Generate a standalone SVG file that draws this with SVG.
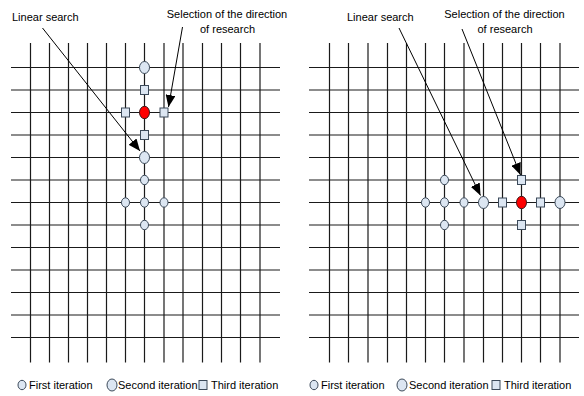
<svg xmlns="http://www.w3.org/2000/svg" width="584" height="396" viewBox="0 0 584 396">
<style>
.g line{stroke:#1a1a1a;stroke-width:1.2}
.t{font-family:"Liberation Sans",Arial,sans-serif;font-size:11px;fill:#000}
.s{fill:#dce6f2;stroke:#3c4a5a;stroke-width:1}
.r{fill:#ff0000;stroke:#3c1a1a;stroke-width:1}
.a{stroke:#000;stroke-width:1;fill:none;marker-end:url(#ah)}
</style>
<defs>
<marker id="ah" markerUnits="userSpaceOnUse" markerWidth="12" markerHeight="10" viewBox="0 0 12 10" refX="12" refY="5" orient="auto">
<path d="M0,0 L12,5 L0,10 z" fill="#000"/>
</marker>
<ellipse id="sc" rx="4" ry="4.7" class="s"/>
<ellipse id="lc" rx="5" ry="6" class="s"/>
<rect id="sq" x="-4" y="-4.5" width="8" height="9" class="s"/>
</defs>
<rect width="584" height="396" fill="#fff"/>
<g id="grid-left" class="g">
<line x1="11" y1="67.5" x2="280" y2="67.5"/><line x1="11" y1="90" x2="280" y2="90"/><line x1="11" y1="112.5" x2="280" y2="112.5"/><line x1="11" y1="135" x2="280" y2="135"/><line x1="11" y1="157.5" x2="280" y2="157.5"/><line x1="11" y1="180" x2="280" y2="180"/><line x1="11" y1="202.5" x2="280" y2="202.5"/><line x1="11" y1="225" x2="280" y2="225"/><line x1="11" y1="247.5" x2="280" y2="247.5"/><line x1="11" y1="270" x2="280" y2="270"/><line x1="11" y1="292.5" x2="280" y2="292.5"/><line x1="11" y1="315" x2="280" y2="315"/><line x1="11" y1="337.5" x2="280" y2="337.5"/>
<line x1="30.5" y1="43" x2="30.5" y2="362.5"/><line x1="49.5" y1="43" x2="49.5" y2="362.5"/><line x1="68.5" y1="43" x2="68.5" y2="362.5"/><line x1="87.5" y1="43" x2="87.5" y2="362.5"/><line x1="106.5" y1="43" x2="106.5" y2="362.5"/><line x1="125.5" y1="43" x2="125.5" y2="362.5"/><line x1="144.5" y1="43" x2="144.5" y2="362.5"/><line x1="164" y1="43" x2="164" y2="362.5"/><line x1="183" y1="43" x2="183" y2="362.5"/><line x1="202.5" y1="43" x2="202.5" y2="362.5"/><line x1="221.5" y1="43" x2="221.5" y2="362.5"/><line x1="240.5" y1="43" x2="240.5" y2="362.5"/><line x1="260" y1="43" x2="260" y2="362.5"/>
</g>
<g id="grid-right" class="g">
<line x1="309" y1="67.5" x2="579" y2="67.5"/><line x1="309" y1="90" x2="579" y2="90"/><line x1="309" y1="112.5" x2="579" y2="112.5"/><line x1="309" y1="135" x2="579" y2="135"/><line x1="309" y1="157.5" x2="579" y2="157.5"/><line x1="309" y1="180" x2="579" y2="180"/><line x1="309" y1="202.5" x2="579" y2="202.5"/><line x1="309" y1="225" x2="579" y2="225"/><line x1="309" y1="247.5" x2="579" y2="247.5"/><line x1="309" y1="270" x2="579" y2="270"/><line x1="309" y1="292.5" x2="579" y2="292.5"/><line x1="309" y1="315" x2="579" y2="315"/><line x1="309" y1="337.5" x2="579" y2="337.5"/>
<line x1="329.5" y1="43" x2="329.5" y2="362.5"/><line x1="348.5" y1="43" x2="348.5" y2="362.5"/><line x1="368" y1="43" x2="368" y2="362.5"/><line x1="387.5" y1="43" x2="387.5" y2="362.5"/><line x1="406.5" y1="43" x2="406.5" y2="362.5"/><line x1="425.5" y1="43" x2="425.5" y2="362.5"/><line x1="444.5" y1="43" x2="444.5" y2="362.5"/><line x1="464" y1="43" x2="464" y2="362.5"/><line x1="483.5" y1="43" x2="483.5" y2="362.5"/><line x1="502.5" y1="43" x2="502.5" y2="362.5"/><line x1="521.5" y1="43" x2="521.5" y2="362.5"/><line x1="540.5" y1="43" x2="540.5" y2="362.5"/><line x1="560" y1="43" x2="560" y2="362.5"/>
</g>
<g id="nodes-left">
<use href="#lc" x="144.5" y="67.5"/>
<use href="#sq" x="144.5" y="90"/>
<use href="#sq" x="125.5" y="112.5"/>
<ellipse id="red-left" cx="144.5" cy="112.5" rx="5" ry="6.2" class="r"/>
<use href="#sq" x="164" y="112.5"/>
<use href="#sq" x="144.5" y="135"/>
<use href="#lc" x="144.5" y="157.5"/>
<use href="#sc" x="144.5" y="180"/>
<use href="#sc" x="125.5" y="202.5"/>
<use href="#sc" x="144.5" y="202.5"/>
<use href="#sc" x="164" y="202.5"/>
<use href="#sc" x="144.5" y="225"/>
</g>
<g id="nodes-right">
<use href="#sc" x="444.5" y="180"/>
<use href="#sq" x="521.5" y="180"/>
<use href="#sc" x="425.5" y="202.5"/>
<use href="#sc" x="444.5" y="202.5"/>
<use href="#sc" x="464" y="202.5"/>
<use href="#lc" x="483.5" y="202.5"/>
<use href="#sq" x="502.5" y="202.5"/>
<ellipse id="red-right" cx="521.5" cy="202.5" rx="5" ry="6.2" class="r"/>
<use href="#sq" x="540.5" y="202.5"/>
<use href="#lc" x="560" y="202.5"/>
<use href="#sc" x="444.5" y="225"/>
<use href="#sq" x="521.5" y="225"/>
</g>
<g id="connectors">
<line class="a" x1="42.5" y1="28" x2="140" y2="151"/>
<line class="a" x1="182.5" y1="27" x2="168.5" y2="107"/>
<line class="a" x1="399" y1="28" x2="480.5" y2="195.5"/>
<line class="a" x1="462" y1="29" x2="520.5" y2="175"/>
</g>
<g id="labels">
<text class="t" x="12" y="20.5">Linear search</text>
<text class="t" x="227" y="18.3" text-anchor="middle">Selection of the direction</text>
<text class="t" x="227.5" y="33.3" text-anchor="middle">of research</text>
<text class="t" x="347" y="20.5">Linear search</text>
<text class="t" x="504.5" y="18.3" text-anchor="middle">Selection of the direction</text>
<text class="t" x="505" y="33.3" text-anchor="middle">of research</text>
</g>
<g id="legend-left">
<use href="#sc" x="22" y="385"/>
<text class="t" x="29" y="389">First iteration</text>
<use href="#lc" x="112" y="385"/>
<text class="t" x="118" y="389">Second iteration</text>
<use href="#sq" x="203" y="385"/>
<text class="t" x="211" y="389">Third iteration</text>
</g>
<g id="legend-right">
<use href="#sc" x="314" y="385"/>
<text class="t" x="321" y="389">First iteration</text>
<use href="#lc" x="402" y="385"/>
<text class="t" x="409" y="389">Second iteration</text>
<use href="#sq" x="496" y="385"/>
<text class="t" x="504" y="389">Third iteration</text>
</g>
</svg>
